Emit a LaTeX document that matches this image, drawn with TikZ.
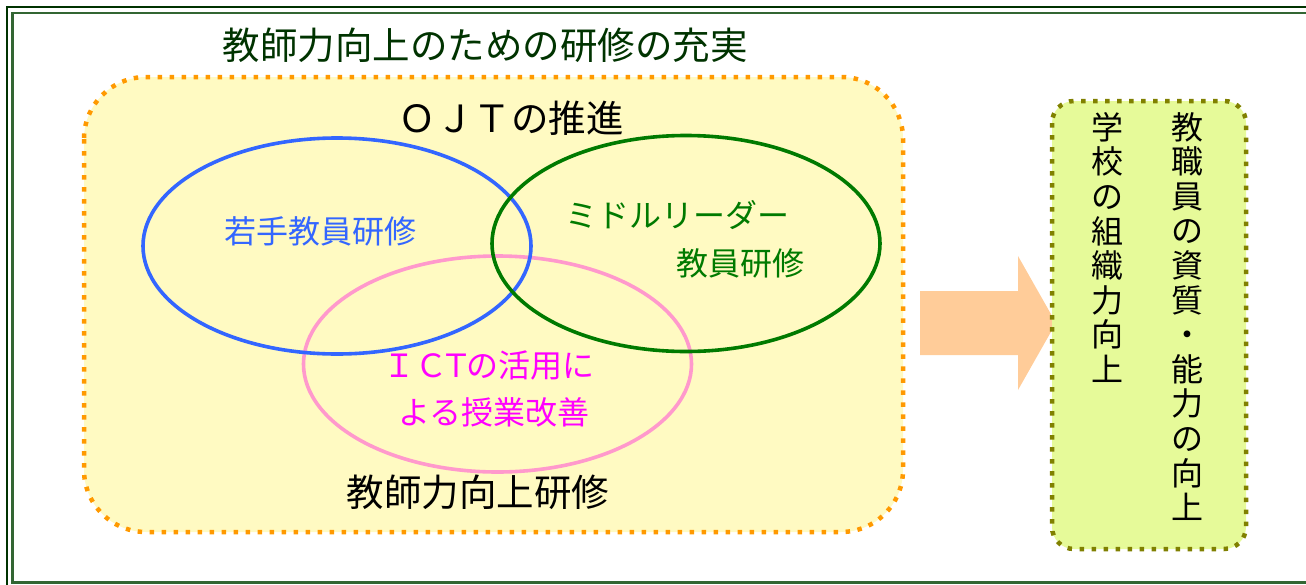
\documentclass[tikz,border=0pt]{standalone}
\usepackage{fontspec}
\setmainfont{Noto Sans CJK JP}
\usetikzlibrary{shapes.geometric}
\definecolor{frameouter}{HTML}{003300}
\definecolor{frameinner}{HTML}{336633}
\definecolor{orangedot}{HTML}{FF9900}
\definecolor{paleyellow}{HTML}{FFFAC2}
\definecolor{olivedot}{HTML}{808000}
\definecolor{limefill}{HTML}{E6FA99}
\definecolor{peach}{HTML}{FFCC99}
\definecolor{vblue}{HTML}{3366FF}
\definecolor{vgreen}{HTML}{007A00}
\definecolor{vpink}{HTML}{FF99CC}
\definecolor{vmagenta}{HTML}{FF00FF}
\definecolor{titlegreen}{HTML}{003300}
\tikzset{
  vennring/.style={ellipse, minimum width=388pt, minimum height=216pt, line width=3.6pt, inner sep=0pt},
  bigtext/.style={font=\fontsize{37.5}{42}\selectfont, inner sep=0pt},
  midtext/.style={font=\fontsize{32}{36}\selectfont, inner sep=0pt},
  verttext/.style={font=\fontsize{32}{34.6}\selectfont, align=center, inner sep=0pt, anchor=north},
}
\begin{document}
\begin{tikzpicture}[x=1pt,y=-1pt]
\useasboundingbox (0,0) rectangle (1306,584);
\begin{scope}
\clip (0,0) rectangle (1306,584);
% outer double frame (right side lies beyond the picture)
\draw[frameouter, line width=2.6pt] (1320,7) -- (7,7) -- (7,600);
\draw[frameinner, line width=2.4pt] (1320,13) -- (12.5,13) -- (12.5,582.5) -- (1320,582.5);
\end{scope}
% title
\node[bigtext, text=titlegreen] (title) at (485,45) {教師力向上のための研修の充実};
% orange dotted panel
\draw[orangedot, fill=paleyellow, line width=4.5pt, dash pattern=on 4.5pt off 7.5pt, rounded corners=62pt] (84,77) rectangle (903,532);
\node[bigtext] (ojt) at (511,118) {ＯＪＴの推進};
% ellipses
\node[vennring, draw=vpink] (ict) at (497.5,364) {};
\node[vennring, draw=vblue] (young) at (337,246) {};
\node[vennring, draw=vgreen] (middle) at (686,243.5) {};
\node[midtext, text=vblue] (youngtxt) at (320,231) {若手教員研修};
\node[midtext, text=vgreen] (middletxt) at (677,215) {ミドルリーダー};
\node[midtext, text=vgreen] (middletxt2) at (740,263) {教員研修};
\node[midtext, text=vmagenta, anchor=west] (icttxt) at (383.5,365) {ＩＣ\hspace{-7pt}Ｔ\hspace{-6pt}の活用に};
\node[midtext, text=vmagenta] (icttxt2) at (494,412) {よる授業改善};
\node[bigtext] (bottom) at (478,492) {教師力向上研修};
% arrow
\coordinate (arrowtip) at (1056,323);
\fill[peach] (920,291) -- (1018,291) -- (1018,256) -- (arrowtip) -- (1018,390) -- (1018,355) -- (920,355) -- cycle;
% green result box
\draw[olivedot, fill=limefill, line width=4.5pt, dash pattern=on 4.5pt off 7.5pt, rounded corners=22pt] (1052,101) rectangle (1246,549);
\node[verttext] (col1) at (1187,112) {教\\職\\員\\の\\資\\質\\・\\能\\力\\の\\向\\上};
\node[verttext] (col2) at (1107,112) {学\\校\\の\\組\\織\\力\\向\\上};
\end{tikzpicture}
\end{document}
